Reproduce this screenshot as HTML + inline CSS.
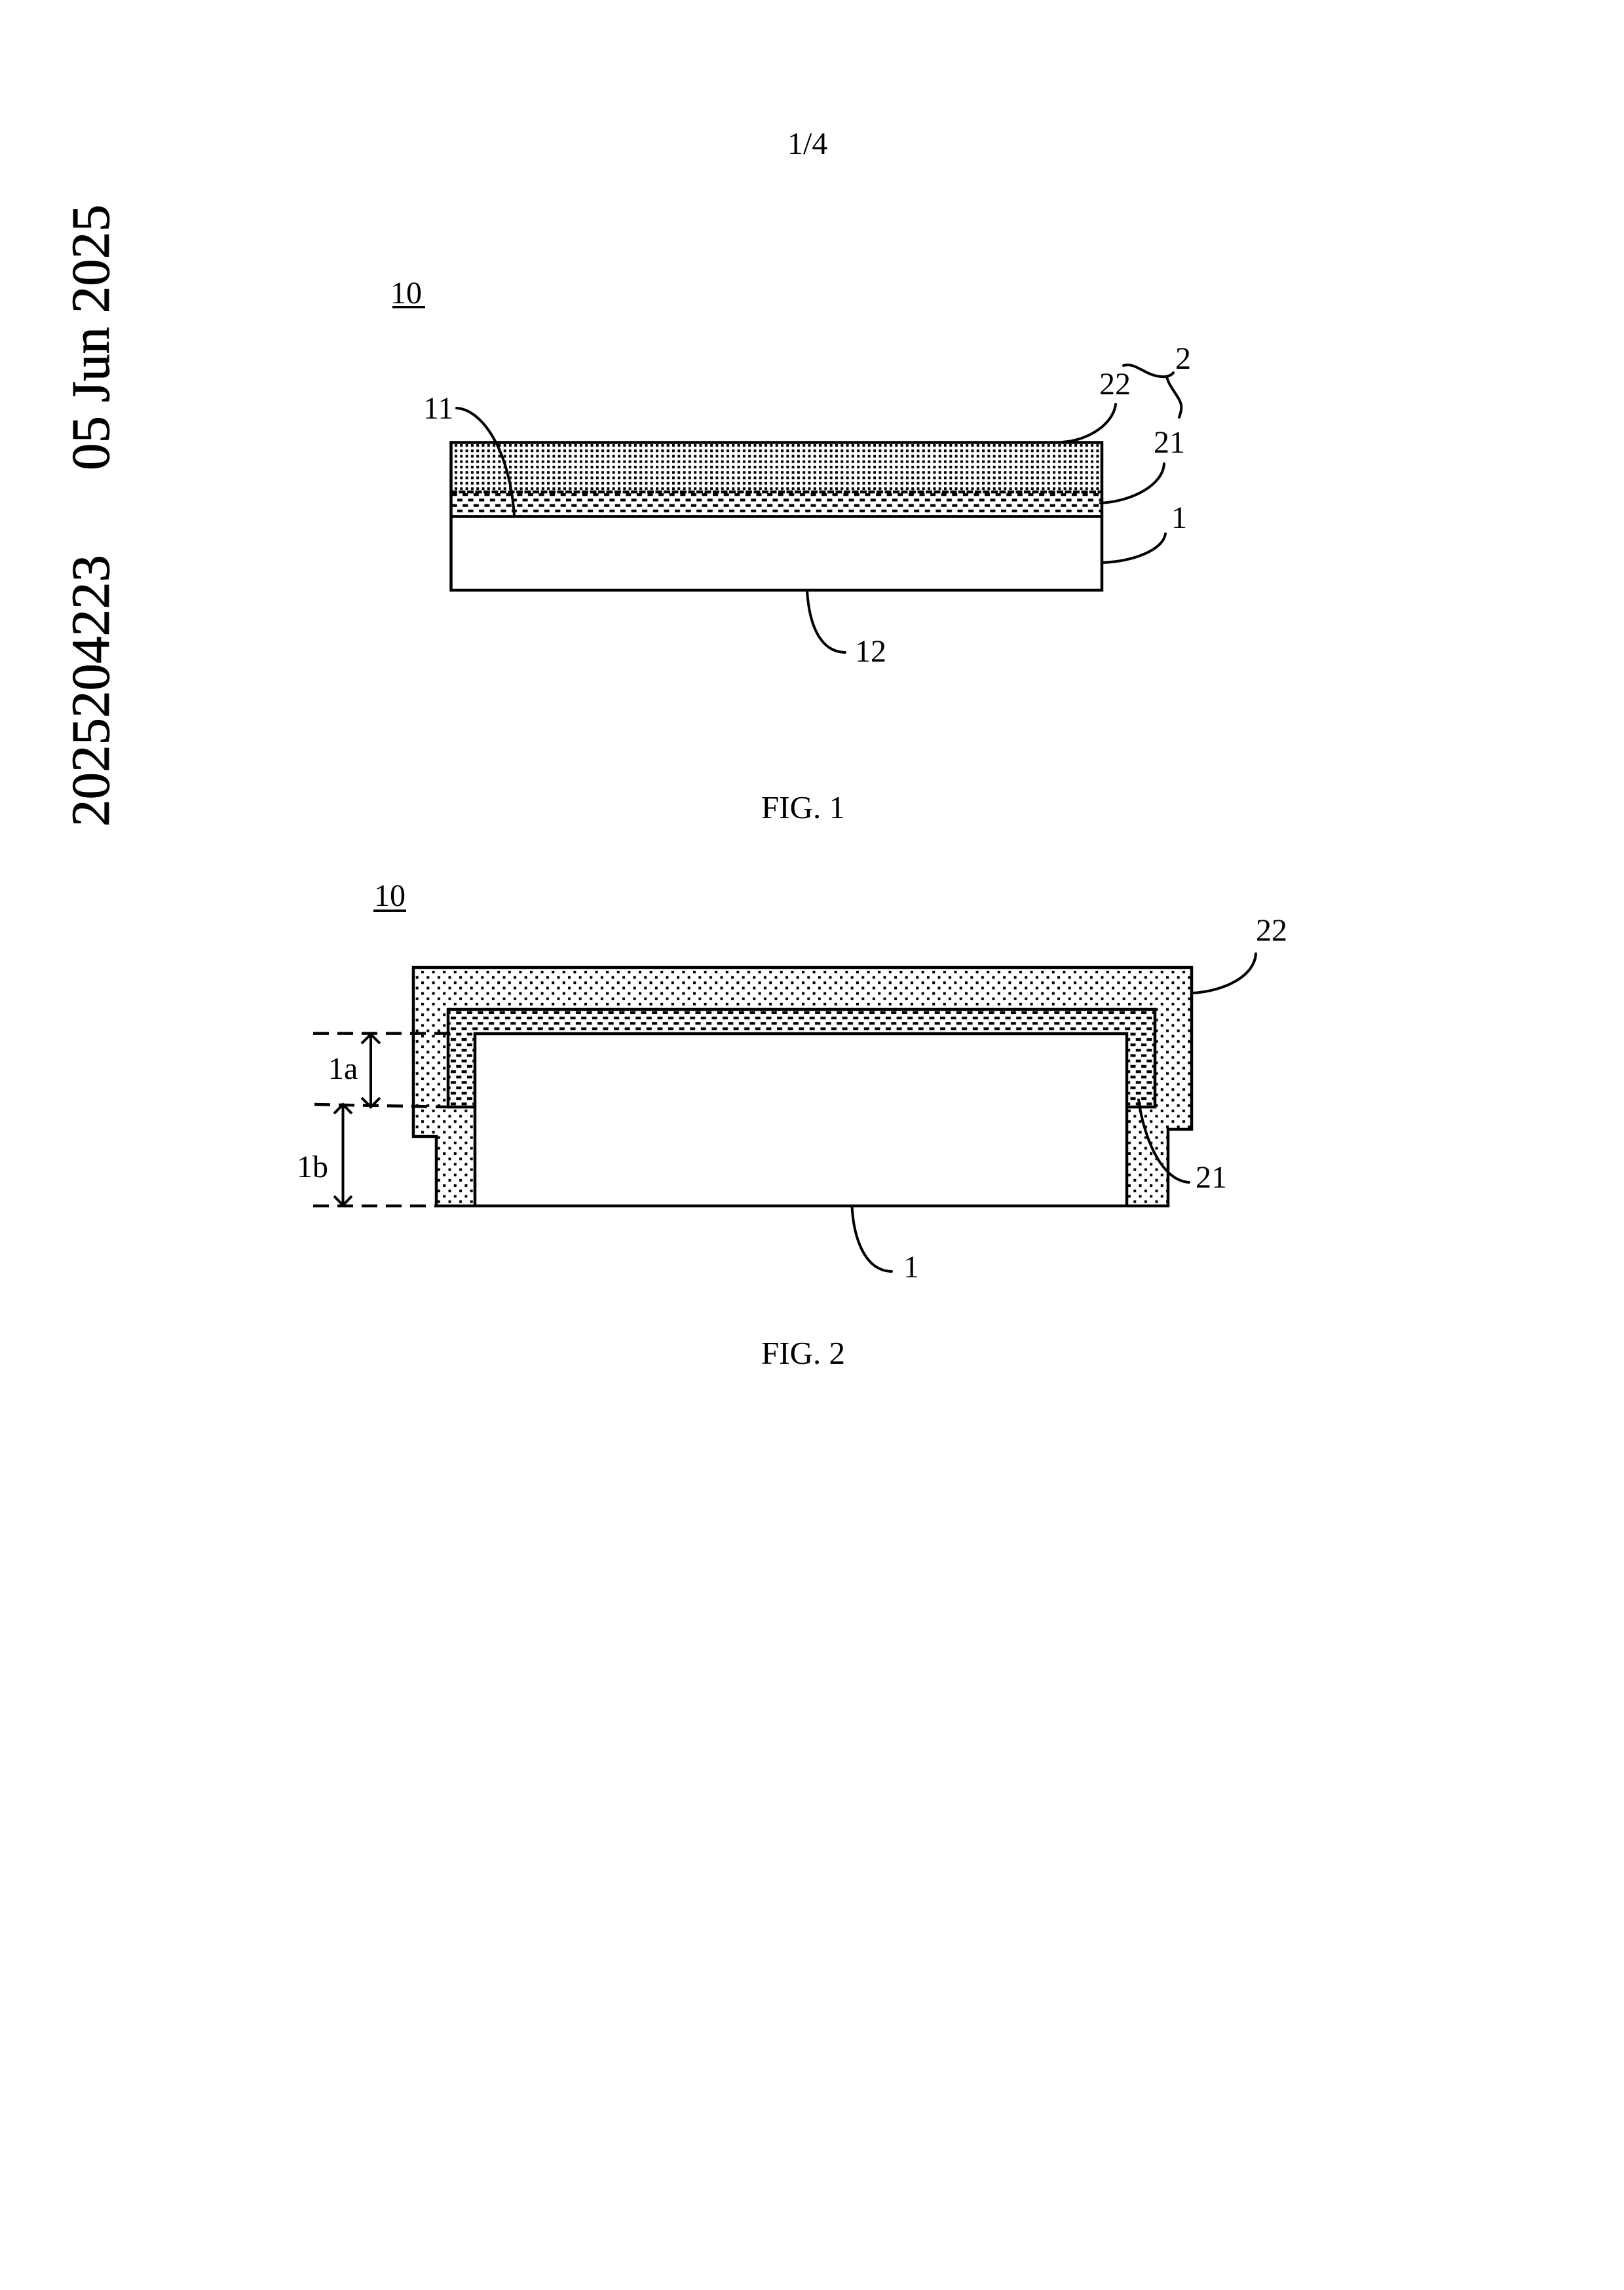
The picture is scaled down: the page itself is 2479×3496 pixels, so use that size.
<!DOCTYPE html>
<html><head><meta charset="utf-8"><style>
html,body{margin:0;padding:0;background:#fff}
svg{display:block}
text{font-family:"Liberation Serif",serif;font-size:48px;fill:#000}
</style></head><body>
<svg xmlns="http://www.w3.org/2000/svg" width="2479" height="3496" viewBox="0 0 2479 3496">
<defs>
<pattern id="f1a" patternUnits="userSpaceOnUse" width="8.3" height="8.25" x="694" y="678"><rect width="4" height="4" fill="#000"/></pattern>
<pattern id="f1b" patternUnits="userSpaceOnUse" width="16.6" height="16.6" x="698" y="761.3"><rect width="8" height="4.2" fill="#000"/><rect x="8.3" y="8.3" width="8" height="4.2" fill="#000"/></pattern>
<pattern id="f2a" patternUnits="userSpaceOnUse" width="16.6" height="16.3" x="643" y="1482"><rect width="4" height="4" fill="#000"/><rect x="8.3" y="8.15" width="4" height="4" fill="#000"/></pattern>
<pattern id="f2b" patternUnits="userSpaceOnUse" width="16.6" height="16.4" x="688" y="1552"><rect width="8" height="4.2" fill="#000"/><rect x="8.3" y="8.2" width="8" height="4.2" fill="#000"/></pattern>
</defs>
<rect width="2479" height="3496" fill="#fff"/>

<text x="1202" y="235">1/4</text>
<g transform="translate(166 718) rotate(-90)"><text x="0" y="0" style="font-size:83px;stroke:#000;stroke-width:.8" xml:space="preserve">05 Jun 2025</text></g>
<g transform="translate(166 1262) rotate(-90)"><text x="0" y="0" style="font-size:83px;stroke:#000;stroke-width:.8">2025204223</text></g>

<!-- FIG 1 -->
<text x="596" y="463">10</text>
<rect x="599" y="467" width="50" height="3.5" fill="#000"/>
<rect x="688" y="676" width="994" height="75" fill="url(#f1a)"/>
<rect x="688" y="751" width="994" height="37" fill="url(#f1b)"/>
<g fill="none" stroke="#000" stroke-width="4.5">
<rect x="688.5" y="675.5" width="993.5" height="225.5"/>
<line x1="688" y1="751" x2="1682" y2="751" stroke-dasharray="10 2.5"/>
<line x1="688" y1="788.5" x2="1682" y2="788.5"/>
</g>
<g fill="none" stroke="#000" stroke-width="4" stroke-linecap="round">
<path d="M697 623C735 625 778 685 785 787"/>
<path d="M1703 617C1700 645 1665 672 1621 675"/>
<path d="M1777 708C1775 740 1730 765 1680 768"/>
<path d="M1779 815C1775 840 1730 857 1682 859"/>
<path d="M1232 902C1235 950 1250 995 1290 996"/>
<path d="M1715 558C1735 552 1750 577 1779 575C1785 574 1789 572 1791 569M1781 575C1784 590 1800 605 1803 618C1804 625 1802 631 1800 637"/>
</g>
<text x="1678" y="602">22</text>
<text x="1794" y="563">2</text>
<text x="1761" y="691">21</text>
<text x="1788" y="806">1</text>
<text x="646" y="639">11</text>
<text x="1305" y="1010">12</text>
<text x="1169" y="1258" style="font-size:49px" transform="translate(-7 -9)">FIG. 1</text>

<!-- FIG 2 -->
<text x="571" y="1383">10</text>
<rect x="570" y="1388.5" width="50" height="3.5" fill="#000"/>
<path d="M631 1477H1819V1724H1783V1841H666V1735H631Z" fill="url(#f2a)"/>
<path d="M684 1541H1763V1690H1720V1578H725V1690H684Z" fill="#fff"/>
<path d="M684 1541H1763V1690H1720V1578H725V1690H684Z" fill="url(#f2b)"/>
<rect x="725" y="1578" width="995" height="263" fill="#fff"/>
<g fill="none" stroke="#000" stroke-width="4.5">
<path d="M631 1477H1819V1724H1783V1841H666V1735H631Z"/>
<path d="M725 1841V1578H1720V1841"/>
<path d="M684 1690V1541H1763V1690H1720"/>
<path d="M684 1690H725"/>
</g>
<g fill="none" stroke="#000" stroke-width="4.5" stroke-dasharray="24 13">
<line x1="478" y1="1577.6" x2="690" y2="1577.6"/>
<line x1="480" y1="1686" x2="684" y2="1690"/>
<line x1="478" y1="1841" x2="666" y2="1841"/>
</g>
<g fill="none" stroke="#000" stroke-width="4">
<path d="M566 1579V1690M552 1593L566 1579L580 1593M552 1676L566 1690L580 1676"/>
<path d="M523.5 1686V1840M510 1700L523.5 1686L537 1700M510 1826L523.5 1840L537 1826"/>
</g>
<g fill="none" stroke="#000" stroke-width="4" stroke-linecap="round">
<path d="M1917 1456C1915 1490 1870 1513 1820 1516"/>
<path d="M1738 1679C1745 1730 1770 1802 1815 1805"/>
<path d="M1300.5 1841C1303 1890 1320 1940 1361 1941"/>
</g>
<text x="501" y="1647">1a</text>
<text x="453" y="1797">1b</text>
<text x="1917" y="1436">22</text>
<text x="1825" y="1813">21</text>
<text x="1379" y="1950">1</text>
<text x="1162" y="2082" style="font-size:49px">FIG. 2</text>
</svg>
</body></html>
